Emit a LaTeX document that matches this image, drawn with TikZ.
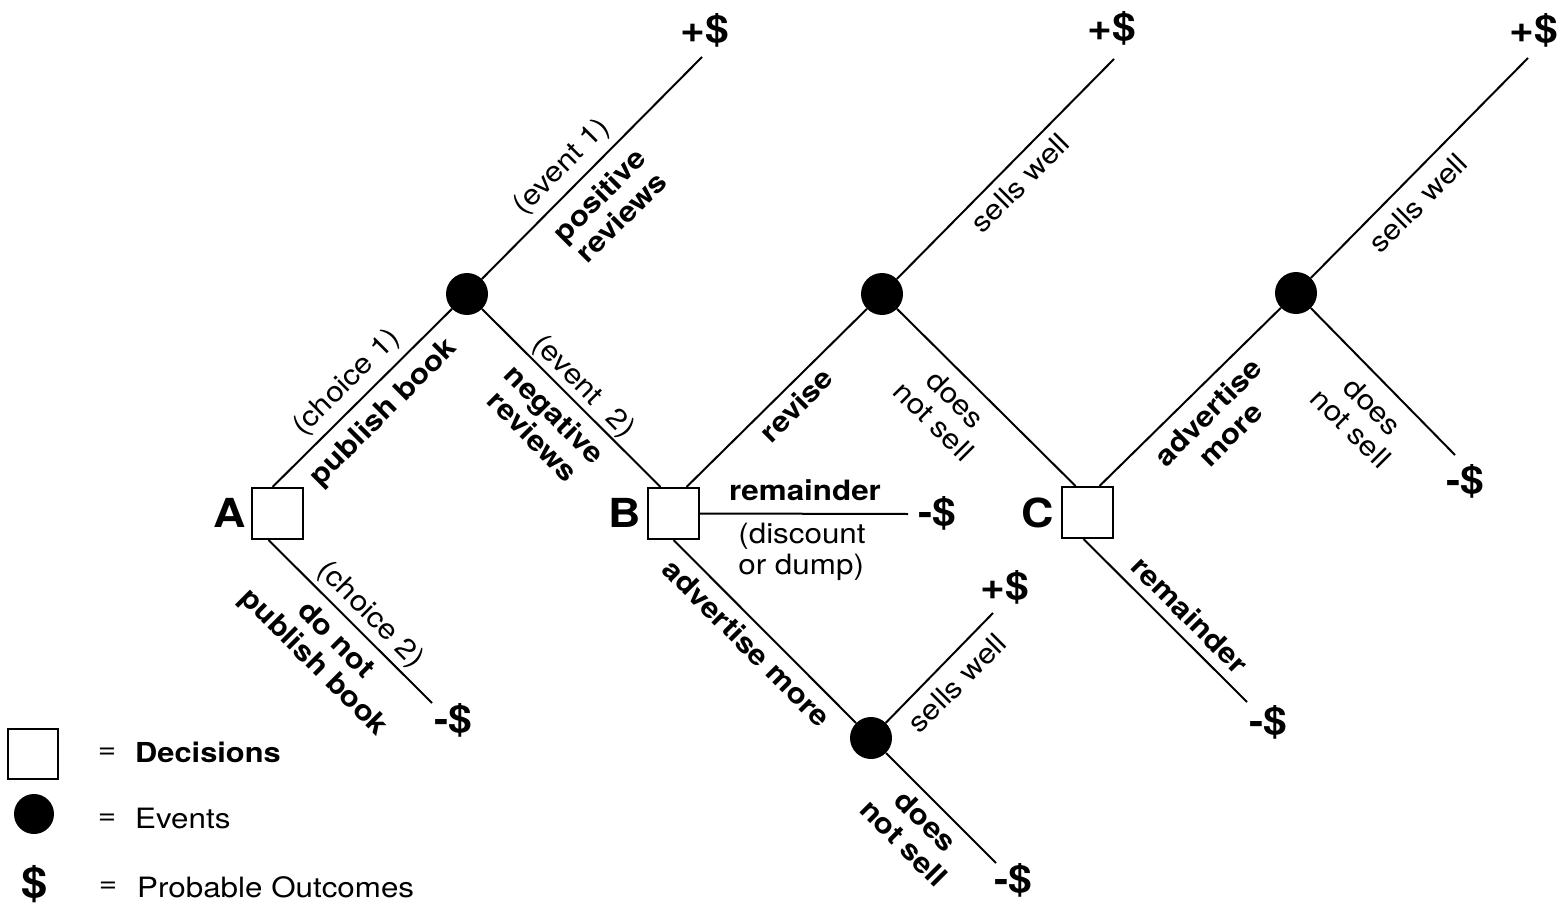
\documentclass[tikz,border=0pt]{standalone}
\usepackage{fontspec}
\setmainfont{TeX Gyre Heros}[FakeStretch=1.12]
\usetikzlibrary{calc}
\newcommand\lblfont{\fontsize{28}{31}\selectfont}
\newcommand\outfont{\bfseries\fontsize{38}{40}\selectfont}
\tikzset{
  dec/.style={draw, line width=2pt, minimum size=51pt, inner sep=0pt, fill=white},
  evt/.style={circle, fill=black, minimum size=42pt, inner sep=0pt},
  conn/.style={line width=2pt},
  lbl/.style={font=\lblfont, align=center, inner sep=0pt},
  blbl/.style={font=\lblfont\bfseries, align=center, inner sep=0pt},
  outc/.style={font=\outfont, inner sep=0pt},
  letter/.style={font=\bfseries\fontsize{40}{42}\selectfont, inner sep=0pt},
}
\begin{document}
\begin{tikzpicture}[x=1pt, y=-1pt]
\useasboundingbox (0,0) rectangle (1565,909);
% decision nodes
\node[dec] (A) at (277.5,513.5) {};
\node[dec] (B) at (673.5,513.5) {};
\node[dec] (C) at (1087.5,512.5) {};
% event nodes
\node[evt] (e1) at (467,294) {};
\node[evt] (e2) at (882,294) {};
\node[evt] (e3) at (1296,293) {};
\node[evt] (e4) at (871,738) {};
% letters
\node[letter] (lA) at (230,513) {A};
\node[letter] (lB) at (625,513) {B};
\node[letter] (lC) at (1038,513) {C};
% free ends
\coordinate (t1) at (702,57);
\coordinate (t2) at (1114,59);
\coordinate (t3) at (1528,58);
\coordinate (t4) at (1455,455);
\coordinate (t5) at (908,514);
\coordinate (t6) at (993,613);
\coordinate (t7) at (996,863);
\coordinate (t8) at (1247,702);
\coordinate (t9) at (432,703);
% outcomes
\node[outc] (o1) at (705,30) {+\$};
\node[outc] (o2) at (1112,28) {+\$};
\node[outc] (o3) at (1534,30) {+\$};
\node[outc] (o4) at (1465,481) {-\$};
\node[outc] (o5) at (937,513) {-\$};
\node[outc] (o6) at (1005,587) {+\$};
\node[outc] (o7) at (1013,880) {-\$};
\node[outc] (o8) at (1268,722) {-\$};
\node[outc] (o9) at (453,720) {-\$};
% connectors
\draw[conn] ($(A.north)+(-5,0)$) -- (e1);
\draw[conn] (e1) -- (t1);
\draw[conn] (e1) -- ($(B.north)+(-13,0)$);
\draw[conn] ($(B.north)+(13,0)$) -- (e2);
\draw[conn] (e2) -- (t2);
\draw[conn] (e2) -- ($(C.north)+(-12,0)$);
\draw[conn] ($(C.north)+(12,0)$) -- (e3);
\draw[conn] (e3) -- (t3);
\draw[conn] (e3) -- (t4);
\draw[conn] (B.east) -- (t5);
\draw[conn] (B.south) -- (e4);
\draw[conn] (e4) -- (t6);
\draw[conn] (e4) -- (t7);
\draw[conn] ($(C.south)+(-4,0)$) -- (t8);
\draw[conn] ($(A.south)+(-9,0)$) -- (t9);
% labels
\node[lbl, rotate=45] (ev1) at (562,167) {(event 1)};
\node[blbl, rotate=45] (pr) at (610,206) {positive\\reviews};
\node[lbl, rotate=45] (ch1) at (347,383) {(choice 1)};
\node[blbl, rotate=45] (pb) at (384,413) {publish book};
\node[lbl, rotate=-45] (ev2) at (583,387) {(event\hspace{0.65em}2)};
\node[blbl, rotate=-45] (nr) at (544,425) {negative\\reviews};
\node[blbl, rotate=45] (rev) at (796,405) {revise};
\node[lbl, rotate=-45] (dns2) at (945,410) {does\\not sell};
\node[lbl, rotate=45] (sw2) at (1020,183) {sells well};
\node[lbl, rotate=45] (sw3) at (1418,203) {sells well};
\node[blbl, rotate=45] (am3) at (1219,423) {advertise\\more};
\node[lbl, rotate=-45] (dns3) at (1362,417) {does\\not sell};
\node[blbl] (rem) at (805,490) {remainder};
\node[lbl, align=left] (disc) at (802,552) {(discount\\or dump)};
\node[lbl, rotate=-45] (ch2) at (370,615) {(choice 2)};
\node[blbl, rotate=-45] (dnp) at (324,652) {do not\\publish book};
\node[blbl, rotate=-45] (am2) at (747,643) {advertise more};
\node[blbl, rotate=-45] (remC) at (1190,615) {remainder};
\node[lbl, rotate=45] (sw4) at (957,683) {sells well};
\node[blbl, rotate=-45] (dns4) at (915,832) {does\\not sell};
% legend
\node[draw, line width=1.2pt, minimum size=50pt, inner sep=0pt] (legsq) at (33,754) {};
\node[circle, fill=black, minimum size=40pt, inner sep=0pt] (legc) at (34,814) {};
\node[font=\bfseries\fontsize{42}{44}\selectfont, inner sep=0pt] (legd) at (35,884) {\$};
\node[lbl] (eq1) at (107,753) {=};
\node[lbl] (eq2) at (107,819) {=};
\node[lbl] (eq3) at (108,887) {=};
\node[font=\bfseries\fontsize{27.5}{29}\selectfont, inner sep=0pt, anchor=west] (legt1) at (135,752) {Decisions};
\node[lbl, anchor=west] (legt2) at (135,818) {Events};
\node[lbl, anchor=west] (legt3) at (137,887) {Probable Outcomes};
\end{tikzpicture}
\end{document}
